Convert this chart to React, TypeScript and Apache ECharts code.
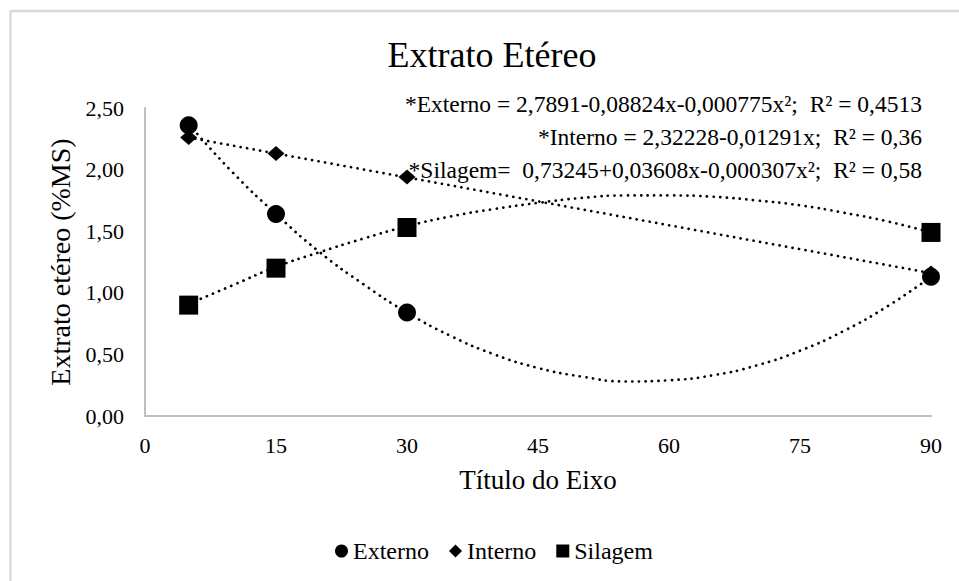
import { useEffect, useRef } from 'react';
import * as echarts from 'echarts';

const FONT = '"Liberation Serif", "Times New Roman", serif';

// Measured points (dias)
const xValues = [5, 15, 30, 90];
const externo = [2.36, 1.64, 0.84, 1.13];
const interno = [2.26, 2.13, 1.94, 1.16];
const silagem = [0.9, 1.2, 1.53, 1.49];

// Trend lines
const trendX = [5, 10, 15, 20, 25, 30, 35, 40, 45, 50, 55, 60, 65, 70, 75, 80, 85, 90];
const externoTrend = [2.37, 1.98, 1.64, 1.33, 1.07, 0.84, 0.65, 0.5, 0.39, 0.32, 0.28, 0.29, 0.33, 0.41, 0.53, 0.69, 0.89, 1.13];
const silagemTrend = [0.91, 1.06, 1.21, 1.33, 1.44, 1.54, 1.62, 1.68, 1.73, 1.77, 1.79, 1.79, 1.78, 1.75, 1.71, 1.65, 1.58, 1.49];
const internoTrendX = [5, 90];
const internoTrend = [2.26, 1.16];

const seriesNames = ['Externo', 'Interno', 'Silagem'];
const equations = [
  '*Externo = 2,7891-0,08824x-0,000775x²;  R² = 0,4513',
  '*Interno = 2,32228-0,01291x;  R² = 0,36',
  '*Silagem=  0,73245+0,03608x-0,000307x²;  R² = 0,58',
];
const titleText = 'Extrato Etéreo';
const yName = 'Extrato etéreo (%MS)';
const xName = 'Título do Eixo';

const pair = (xs: number[], ys: number[]) => xs.map((x, i) => [x, ys[i]]);

export default function App() {
  const ref = useRef<HTMLDivElement>(null);
  useEffect(() => {
    const chart = echarts.init(ref.current!, null, { renderer: 'svg' });
    const dotted = { color: '#000', width: 2.7, type: [0.1, 6.5], cap: 'round' };
    const solid = { color: '#000', opacity: 1 };
    chart.setOption({
      animation: false,
      backgroundColor: '#fff',
      textStyle: { fontFamily: FONT, color: '#000' },
      grid: { left: 145, right: 28, top: 108, bottom: 165, containLabel: false, outerBoundsMode: 'none' },
      xAxis: {
        type: 'value',
        min: 0,
        max: 90,
        interval: 15,
        name: xName,
        nameLocation: 'middle',
        nameGap: 50,
        nameTextStyle: { fontFamily: FONT, fontSize: 27, color: '#000' },
        axisLine: { show: true, lineStyle: { color: '#bfbfbf', width: 2 } },
        axisTick: { show: false },
        splitLine: { show: false },
        axisLabel: { fontFamily: FONT, fontSize: 22, color: '#000', margin: 18 },
      },
      yAxis: {
        type: 'value',
        min: 0,
        max: 2.5,
        interval: 0.5,
        name: yName,
        nameLocation: 'middle',
        nameGap: 70,
        nameTextStyle: { fontFamily: FONT, fontSize: 28, color: '#000' },
        axisLine: { show: true, lineStyle: { color: '#bfbfbf', width: 2 } },
        axisTick: { show: false },
        splitLine: { show: false },
        axisLabel: {
          fontFamily: FONT,
          fontSize: 22,
          color: '#000',
          margin: 21,
          formatter: (v: number) => v.toFixed(2).replace('.', ','),
        },
      },
      legend: {
        data: seriesNames,
        left: 335,
        top: 539,
        padding: 0,
        itemGap: 20,
        itemWidth: 13,
        itemHeight: 13,
        textStyle: { fontFamily: FONT, fontSize: 24, color: '#000' },
      },
      graphic: [
        {
          type: 'rect',
          shape: { x: 10.5, y: 11, width: 1000, height: 1000 },
          style: { fill: 'none', stroke: '#d9d9d9', lineWidth: 2.3 },
          silent: true,
          z: -1,
        },
        {
          type: 'text',
          x: 492,
          y: 55,
          style: { text: titleText, font: `36px ${FONT}`, fill: '#000', align: 'center', verticalAlign: 'middle' },
        },
        ...equations.map((t, i) => ({
          type: 'text',
          x: 922,
          y: 104 + i * 33,
          z: 10,
          style: { text: t, font: `23.5px ${FONT}`, fill: '#000', align: 'right', verticalAlign: 'middle' },
        })),
      ],
      series: [
        { name: 'Externo trend', type: 'line', data: pair(trendX, externoTrend), smooth: true, showSymbol: false, symbol: 'none', lineStyle: dotted, z: 1, silent: true },
        { name: 'Interno trend', type: 'line', data: pair(internoTrendX, internoTrend), showSymbol: false, symbol: 'none', lineStyle: dotted, z: 1, silent: true },
        { name: 'Silagem trend', type: 'line', data: pair(trendX, silagemTrend), smooth: true, showSymbol: false, symbol: 'none', lineStyle: dotted, z: 1, silent: true },
        { name: 'Silagem', type: 'scatter', symbol: 'rect', symbolSize: 19, data: pair(xValues, silagem), itemStyle: solid, z: 3 },
        { name: 'Interno', type: 'scatter', symbol: 'diamond', symbolSize: [17, 15], data: pair(xValues, interno), itemStyle: solid, z: 3 },
        { name: 'Externo', type: 'scatter', symbol: 'circle', symbolSize: 18, data: pair(xValues, externo), itemStyle: solid, z: 4 },
      ],
    });
    return () => chart.dispose();
  }, []);
  return (
    <div
      ref={ref}
      style={{ position: 'fixed', left: 0, top: 0, width: 959, height: 581, background: '#fff' }}
    />
  );
}
